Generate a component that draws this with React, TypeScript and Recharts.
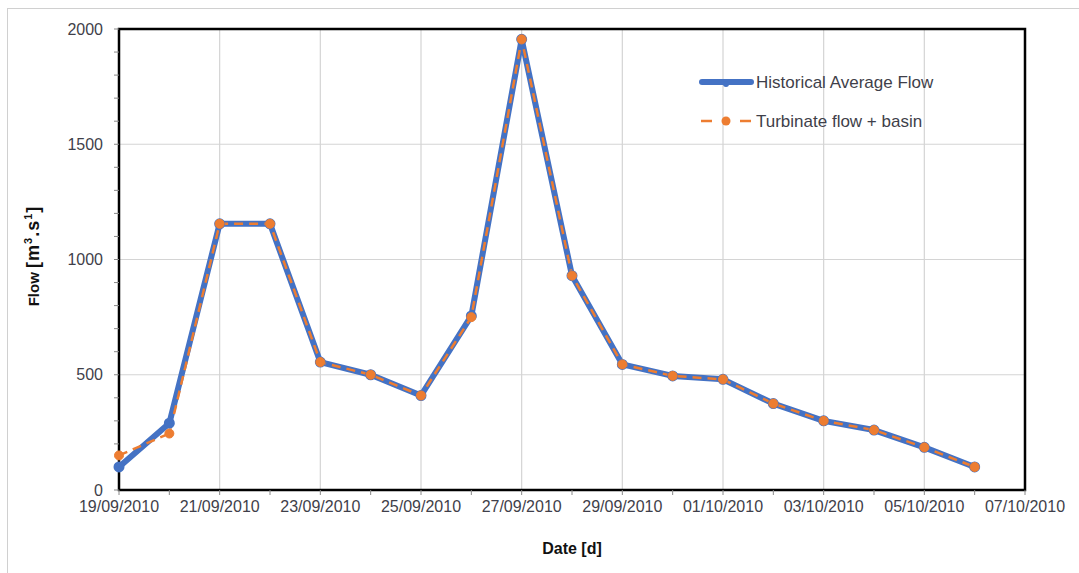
import { LineChart, Line, XAxis, YAxis, CartesianGrid, ReferenceArea } from "recharts";

// day index 0 = 19/09/2010
const days = [0, 1, 2, 3, 4, 5, 6, 7, 8, 9, 10, 11, 12, 13, 14, 15, 16, 17];
const historicalFlow = [100, 290, 1155, 1155, 555, 500, 410, 755, 1955, 930, 545, 495, 480, 375, 300, 260, 185, 100];
const turbinateFlow = [150, 245, 1155, 1155, 555, 500, 410, 750, 1955, 930, 545, 495, 480, 375, 300, 260, 185, 100];

const xTicks = [0, 2, 4, 6, 8, 10, 12, 14, 16, 18];
const xTickLabels = [
  "19/09/2010", "21/09/2010", "23/09/2010", "25/09/2010", "27/09/2010",
  "29/09/2010", "01/10/2010", "03/10/2010", "05/10/2010", "07/10/2010",
];
const xMinorTicks = [0, 1, 2, 3, 4, 5, 6, 7, 8, 9, 10, 11, 12, 13, 14, 15, 16, 17, 18];
const yTicks = [0, 500, 1000, 1500, 2000];
const yMinorTicks = [0, 100, 200, 300, 400, 500, 600, 700, 800, 900, 1000, 1100, 1200, 1300, 1400, 1500, 1600, 1700, 1800, 1900, 2000];

const BLUE = "#4472C4";
const ORANGE = "#ED7D31";
const TICK_COLOR = "#3f3f4a";
const FONT = "'Liberation Sans', Arial, sans-serif";

const data = days.map((d, i) => ({
  day: d,
  historical: historicalFlow[i],
  turbinate: turbinateFlow[i],
}));

// only label the major ticks, minor ones just keep their tick line
const XTick = (props: any) => {
  const { x, y, payload } = props;
  const idx = xTicks.indexOf(payload.value);
  if (idx < 0) return <g />;
  return (
    <text x={x} y={y} dy="0.71em" textAnchor="middle" fill={TICK_COLOR} fontSize={16} fontFamily={FONT}>
      {xTickLabels[idx]}
    </text>
  );
};

const YTick = (props: any) => {
  const { x, y, payload } = props;
  if (!yTicks.includes(payload.value)) return <g />;
  return (
    <text x={x} y={y} dy="0.355em" textAnchor="end" fill={TICK_COLOR} fontSize={16} fontFamily={FONT}>
      {payload.value}
    </text>
  );
};

export default function App() {
  return (
    <div style={{ position: "absolute", left: 0, top: 0, width: 1079, height: 573, background: "#fff" }}>
      <div
        style={{
          position: "absolute",
          left: 7,
          top: 8,
          width: 1080,
          height: 580,
          border: "1px solid #d0d0d0",
          boxSizing: "border-box",
        }}
      />
      <LineChart
        width={1079}
        height={573}
        data={data}
        margin={{ top: 29, right: 54, bottom: 0, left: 0 }}
      >
        <CartesianGrid stroke="#d4d4d4" strokeWidth={1.2} verticalValues={xTicks} horizontalValues={yTicks} />
        <XAxis
          dataKey="day"
          type="number"
          domain={[0, 18]}
          ticks={xMinorTicks}
          tick={XTick}
          tickLine={{ stroke: "#888" }}
          tickSize={5}
          tickMargin={6}
          axisLine={false}
          height={83}
          interval={0}
        />
        <YAxis
          domain={[0, 2000]}
          ticks={yMinorTicks}
          tick={YTick}
          tickLine={{ stroke: "#888" }}
          tickSize={5}
          tickMargin={11}
          axisLine={false}
          width={119}
          interval={0}
        />
        <ReferenceArea
          x1={0}
          x2={18}
          y1={0}
          y2={2000}
          fill="none"
          stroke="#000"
          strokeWidth={2.5}
        />
        <Line
          dataKey="historical"
          type="linear"
          stroke={BLUE}
          strokeWidth={6}
          strokeLinejoin="round"
          dot={{ r: 2.5, fill: BLUE, stroke: BLUE }}
          isAnimationActive={false}
        />
        <Line
          dataKey="turbinate"
          type="linear"
          stroke={ORANGE}
          strokeWidth={2.5}
          strokeDasharray="9 6"
          dot={{ r: 4.5, fill: ORANGE, stroke: ORANGE, strokeWidth: 1, strokeDasharray: "" }}
          isAnimationActive={false}
        />
      </LineChart>

      {/* axis titles */}
      <div
        style={{
          position: "absolute",
          left: 0,
          width: 1144,
          top: 540,
          textAlign: "center",
          fontFamily: FONT,
          fontWeight: "bold",
          fontSize: 16,
          color: "#111",
        }}
      >
        Date [d]
      </div>
      <div
        style={{
          position: "absolute",
          left: 33,
          top: 256,
          transform: "translate(-50%, -50%) rotate(-90deg)",
          whiteSpace: "nowrap",
          fontFamily: FONT,
          fontWeight: "bold",
          fontSize: 15,
          color: "#111",
        }}
      >
        Flow <span style={{ fontSize: 18, letterSpacing: 1 }}>[m<sup style={{ fontSize: 11 }}>3</sup>.s<sup style={{ fontSize: 11 }}>1</sup>]</span>
      </div>

      {/* legend */}
      <svg style={{ position: "absolute", left: 695, top: 60 }} width={60} height={40}>
        <line x1={7} y1={22} x2={56} y2={22} stroke={BLUE} strokeWidth={6} strokeLinecap="round" />
        <circle cx={31} cy={24} r={3} fill={BLUE} />
      </svg>
      <svg style={{ position: "absolute", left: 695, top: 110 }} width={60} height={20}>
        <line x1={6} y1={11} x2={17} y2={11} stroke={ORANGE} strokeWidth={2.5} />
        <line x1={45} y1={11} x2={56} y2={11} stroke={ORANGE} strokeWidth={2.5} />
        <circle cx={31} cy={11} r={4.5} fill={ORANGE} />
      </svg>
      <div
        style={{
          position: "absolute",
          left: 756,
          top: 63,
          fontFamily: FONT,
          fontSize: 17,
          color: "#3f3f4a",
          lineHeight: "39px",
        }}
      >
        <div>Historical Average Flow</div>
        <div>Turbinate flow + basin</div>
      </div>
    </div>
  );
}
